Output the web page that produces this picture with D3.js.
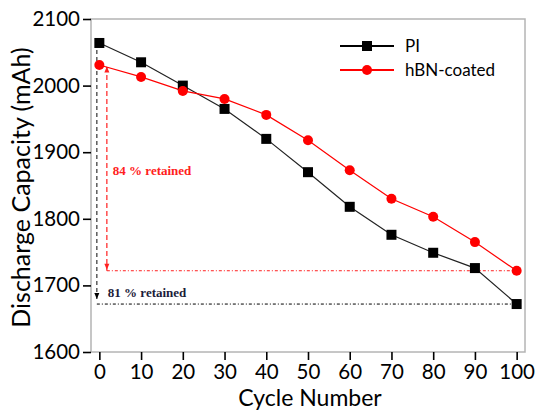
<!DOCTYPE html>
<html>
  <head>
    <meta charset="utf-8">
    <script src="https://d3js.org/d3.v7.min.js"></script>
    <style>
      body { margin: 0; background: #fff; }
      text { font-family: Lato, "Open Sans", sans-serif; }
    </style>
  </head>
  <body>
    <svg width="539" height="412"></svg>
    <script>
      // data
      var cycles = [0, 10, 20, 30, 40, 50, 60, 70, 80, 90, 100];
      var piCap  = [2064, 2035, 2000, 1965, 1920, 1870, 1818, 1776, 1749, 1726, 1672];
      var hbnCap = [2031, 2013, 1992, 1980, 1956, 1918, 1873, 1830, 1803, 1765, 1722];
      var xTicks = [0, 10, 20, 30, 40, 50, 60, 70, 80, 90, 100];
      var yTicks = [1600, 1700, 1800, 1900, 2000, 2100];
      var seriesNames = ["PI", "hBN-coated"];
      var seriesColors = ["#000000", "#ff0000"];

      var svg = d3.select("svg");
      var marge = {left: 91, right: 14, top: 19, bottom: 60};
      var W = 539 - marge.left - marge.right;
      var H = 412 - marge.top - marge.bottom;
      var g = svg.append("g").attr("transform", "translate(" + marge.left + "," + marge.top + ")");

      var x = d3.scaleLinear().domain([-2, 102]).range([0, W]);
      var y = d3.scaleLinear().domain([1600, 2100]).range([H, 0]);

      // frame
      g.append("rect").attr("width", W).attr("height", H)
        .attr("fill", "none").attr("stroke", "#b4b4b4").attr("stroke-width", 1.5);

      // axes: major + minor ticks
      var xAxis = g.append("g").attr("transform", "translate(0," + H + ")");
      xAxis.call(d3.axisBottom(x).tickValues(d3.range(5, 100, 10)).tickSize(5).tickFormat(""));
      xAxis.call(d3.axisBottom(x).tickValues(xTicks).tickSize(8).tickPadding(4).tickFormat(d3.format("d")));
      var yAxis = g.append("g");
      yAxis.call(d3.axisLeft(y).tickValues(d3.range(1650, 2100, 100)).tickSize(5).tickFormat(""));
      yAxis.call(d3.axisLeft(y).tickValues(yTicks).tickSize(8).tickPadding(3).tickFormat(d3.format("d")));
      g.selectAll(".domain").remove();
      g.selectAll(".tick line").attr("stroke", "#000").attr("stroke-width", 1.6);
      g.selectAll(".tick text").attr("font-size", 20.5).attr("fill", "#000")
        .style("font-family", "Lato, sans-serif");

      // axis titles
      svg.append("text").attr("x", 310).attr("y", 406).attr("text-anchor", "middle")
        .attr("font-size", 23).text("Cycle Number");
      svg.append("text").attr("transform", "translate(30," + (marge.top + H / 2 + 2) + ") rotate(-90)")
        .attr("text-anchor", "middle").attr("font-size", 25).text("Discharge Capacity (mAh)");

      // annotation lines
      var ann = g.append("g");
      var piX = -0.6, hbnX = 1.8;
      ann.append("line").attr("x1", x(piX)).attr("x2", x(piX))
        .attr("y1", y(piCap[0])).attr("y2", y(1672) - 4)
        .attr("stroke", "#333").attr("stroke-width", 1.2).attr("stroke-dasharray", "4,3");
      ann.append("line").attr("x1", x(hbnX)).attr("x2", x(hbnX))
        .attr("y1", y(hbnCap[0]) + 2).attr("y2", y(1722))
        .attr("stroke", "#ff2020").attr("stroke-width", 1.2).attr("stroke-dasharray", "5,3");
      ann.append("line").attr("x1", x(piX)).attr("x2", x(100))
        .attr("y1", y(1672)).attr("y2", y(1672))
        .attr("stroke", "#000").attr("stroke-width", 1).attr("stroke-dasharray", "3,2,1,2");
      ann.append("line").attr("x1", x(hbnX)).attr("x2", x(100))
        .attr("y1", y(1722)).attr("y2", y(1722))
        .attr("stroke", "#ff2020").attr("stroke-width", 1).attr("stroke-dasharray", "3,2,1,2");
      // small arrow heads
      function arrow(cx, cy, dir, col) {
        ann.append("path")
          .attr("d", "M" + (cx - 2.5) + "," + (cy - 3 * dir) + "L" + cx + "," + (cy + 3 * dir) + "L" + (cx + 2.5) + "," + (cy - 3 * dir) + "Z")
          .attr("fill", col);
      }
      arrow(x(hbnX), y(2024), -1, "#ff2020");
      arrow(x(hbnX), y(1728), 1, "#ff2020");
      arrow(x(piX), y(1684), 1, "#000");

      ann.append("text").attr("x", x(hbnX) + 6).attr("y", y(1873) + 5)
        .attr("fill", "#ff2020").attr("font-size", 13).attr("font-weight", "bold")
        .style("font-family", "'Liberation Serif', serif").text("84 % retained");
      ann.append("text").attr("x", x(hbnX) + 1).attr("y", y(1683))
        .attr("fill", "#1c1c3a").attr("font-size", 13).attr("font-weight", "bold")
        .style("font-family", "'Liberation Serif', serif").text("81 % retained");

      // series
      var line = d3.line().x(function(d) { return x(d[0]); }).y(function(d) { return y(d[1]); });
      var piPts = cycles.map(function(c, i) { return [c, piCap[i]]; });
      var hbnPts = cycles.map(function(c, i) { return [c, hbnCap[i]]; });

      g.append("path").datum(piPts).attr("d", line).attr("fill", "none")
        .attr("stroke", "#222").attr("stroke-width", 1.2);
      g.append("path").datum(hbnPts).attr("d", line).attr("fill", "none")
        .attr("stroke", seriesColors[1]).attr("stroke-width", 1.2);

      g.selectAll(".sq").data(piPts).enter().append("rect")
        .attr("x", function(d) { return x(d[0]) - 5; })
        .attr("y", function(d) { return y(d[1]) - 5; })
        .attr("width", 10).attr("height", 10).attr("fill", seriesColors[0]);
      g.selectAll(".ci").data(hbnPts).enter().append("circle")
        .attr("cx", function(d) { return x(d[0]); })
        .attr("cy", function(d) { return y(d[1]); })
        .attr("r", 5).attr("fill", seriesColors[1]);

      // legend
      var leg = svg.append("g").attr("transform", "translate(340,46)");
      seriesNames.forEach(function(name, i) {
        var row = leg.append("g").attr("transform", "translate(0," + (i * 24) + ")");
        row.append("line").attr("x1", 0).attr("x2", 54).attr("stroke", seriesColors[i]).attr("stroke-width", 2);
        if (i === 0) {
          row.append("rect").attr("x", 22).attr("y", -5).attr("width", 10).attr("height", 10).attr("fill", seriesColors[i]);
        } else {
          row.append("circle").attr("cx", 27).attr("r", 5).attr("fill", seriesColors[i]);
        }
        row.append("text").attr("x", 65).attr("y", 6).attr("font-size", 17).text(name);
      });
    </script>
  </body>
</html>
